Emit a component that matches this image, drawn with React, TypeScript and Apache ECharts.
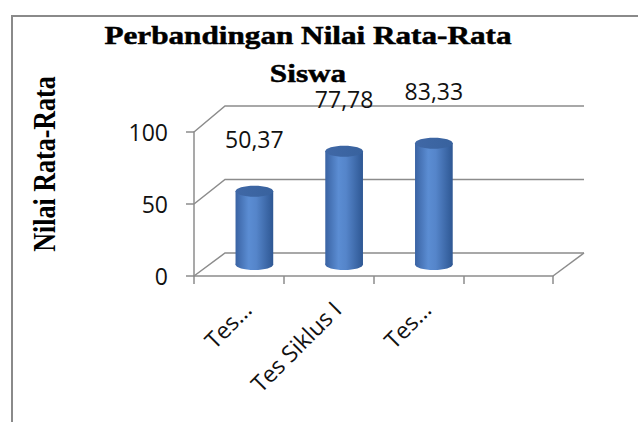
import React, { useEffect, useRef } from "react";
import * as echarts from "echarts";

const categories = ["Tes...", "Tes Siklus I", "Tes...", ""];
const values = [50.37, 77.78, 83.33];
const yTicks = [0, 50, 100];
const titleLines = ["Perbandingan Nilai Rata-Rata", "Siswa"];
const yTitle = "Nilai Rata-Rata";

const DEPTH_DX = 31;
const depthDy = (v: number) => -23 - (3 * v) / 100;
const fmt = (v: number) => v.toFixed(2).replace(".", ",");

const AXIS_COLOR = "#8c8c8c";
const LABEL_FONT = "Open Sans";

export default function App() {
  const ref = useRef<HTMLDivElement>(null);
  useEffect(() => {
    if (!ref.current) return;
    const chart = echarts.init(ref.current, null, { renderer: "svg" });

    const bodyGrad = () =>
      new echarts.graphic.LinearGradient(0, 0, 1, 0, [
        { offset: 0, color: "#3a63a3" },
        { offset: 0.35, color: "#5b8dd3" },
        { offset: 0.55, color: "#5585ca" },
        { offset: 1, color: "#2e5793" },
      ]);

    const titleStyle = (text: string) => ({
      text,
      fontSize: 26,
      fontWeight: "bold",
      fontFamily: "Liberation Serif",
      fill: "#000",
      stroke: "#000",
      lineWidth: 0.5,
      align: "center",
      verticalAlign: "middle",
      textAlign: "center",
      textVerticalAlign: "middle",
    });

    const option: any = {
      animation: false,
      backgroundColor: "#ffffff",
      grid: { left: 194, right: 85, top: 132, bottom: 146 },
      xAxis: {
        type: "category",
        data: categories,
        boundaryGap: true,
        axisLine: { show: true, lineStyle: { color: AXIS_COLOR, width: 1.5 } },
        axisTick: { show: true, length: 8, alignWithLabel: false, interval: 0, lineStyle: { color: AXIS_COLOR, width: 1.5 } },
        axisLabel: {
          interval: 0,
          rotate: 45,
          margin: 21,
          verticalAlign: "top",
          fontSize: 23,
          fontFamily: LABEL_FONT,
          color: "#111",
        },
        splitLine: { show: false },
      },
      yAxis: {
        type: "value",
        min: 0,
        max: 100,
        interval: 50,
        axisLine: { show: true, lineStyle: { color: AXIS_COLOR, width: 1.5 } },
        axisTick: { show: true, length: 8, lineStyle: { color: AXIS_COLOR, width: 1.5 } },
        axisLabel: { margin: 26, fontSize: 23, fontFamily: LABEL_FONT, color: "#111" },
        splitLine: { show: false },
      },
      graphic: [
        {
          type: "rect",
          shape: { x: 12, y: 16, width: 700, height: 500 },
          style: { fill: "none", stroke: "#8a8a8a", lineWidth: 2 },
          silent: true,
        },
        { type: "text", x: 308, y: 35, scaleX: 1.2, style: titleStyle(titleLines[0]) },
        { type: "text", x: 308, y: 73, scaleX: 1.2, style: titleStyle(titleLines[1]) },
        {
          type: "text",
          x: 44,
          y: 164,
          rotation: Math.PI / 2,
          scaleY: 1.2,
          style: {
            text: yTitle,
            fontSize: 26,
            fontWeight: "bold",
            fontFamily: "Liberation Serif",
            fill: "#000",
            align: "center",
            verticalAlign: "middle",
            textAlign: "center",
            textVerticalAlign: "middle",
          },
        },
      ],
      series: [
        {
          type: "custom",
          name: "walls",
          clip: false,
          silent: true,
          z: 1,
          data: yTicks.map((v) => [0, v]),
          renderItem: (params: any, api: any) => {
            const v = api.value(1);
            const cs = params.coordSys;
            const y = api.coord([0, v])[1];
            const dy = depthDy(v);
            const x0 = cs.x;
            const x1 = cs.x + cs.width;
            const children: any[] = [
              {
                type: "polyline",
                shape: {
                  points: [
                    [x0, y],
                    [x0 + DEPTH_DX, y + dy],
                    [x1 + DEPTH_DX, y + dy],
                  ],
                },
                style: { fill: "none", stroke: AXIS_COLOR, lineWidth: 1.5 },
              },
            ];
            if (v === 0) {
              children.push({
                type: "line",
                shape: { x1: x1, y1: y, x2: x1 + DEPTH_DX, y2: y + dy },
                style: { stroke: AXIS_COLOR, lineWidth: 1.5 },
              });
            }
            return { type: "group", children };
          },
        },
        {
          type: "custom",
          name: "Nilai",
          clip: false,
          z: 3,
          data: values.map((v, i) => [i, v]),
          renderItem: (params: any, api: any) => {
            const i = api.value(0);
            const v = api.value(1);
            const top0 = api.coord([i, v]);
            const base0 = api.coord([i, 0]);
            const band = api.size([1, 0])[0];
            const w = band * 0.42;
            const cx = top0[0] + DEPTH_DX / 2;
            const top = top0[1] + depthDy(v) / 2;
            const base = base0[1] + depthDy(0) / 2;
            const ry = 5.5;
            return {
              type: "group",
              children: [
                {
                  type: "ellipse",
                  shape: { cx, cy: base, rx: w / 2, ry },
                  style: { fill: bodyGrad() },
                },
                {
                  type: "rect",
                  shape: { x: cx - w / 2, y: top, width: w, height: base - top },
                  style: { fill: bodyGrad() },
                },
                {
                  type: "ellipse",
                  shape: { cx, cy: top, rx: w / 2, ry },
                  style: {
                    fill: new echarts.graphic.LinearGradient(0, 0, 1, 0, [
                      { offset: 0, color: "#4068a6" },
                      { offset: 1, color: "#38629e" },
                    ]),
                  },
                },
                {
                  type: "text",
                  x: cx,
                  y: top - 52,
                  style: {
                    text: fmt(v),
                    fontSize: 23,
                    fontFamily: LABEL_FONT,
                    fill: "#111",
                    align: "center",
                    verticalAlign: "middle",
                    textAlign: "center",
                    textVerticalAlign: "middle",
                  },
                },
              ],
            };
          },
        },
      ],
    };

    chart.setOption(option);
    return () => chart.dispose();
  }, []);

  return (
    <div
      ref={ref}
      style={{ position: "fixed", left: 0, top: 0, width: 638, height: 422, background: "#fff" }}
    />
  );
}
